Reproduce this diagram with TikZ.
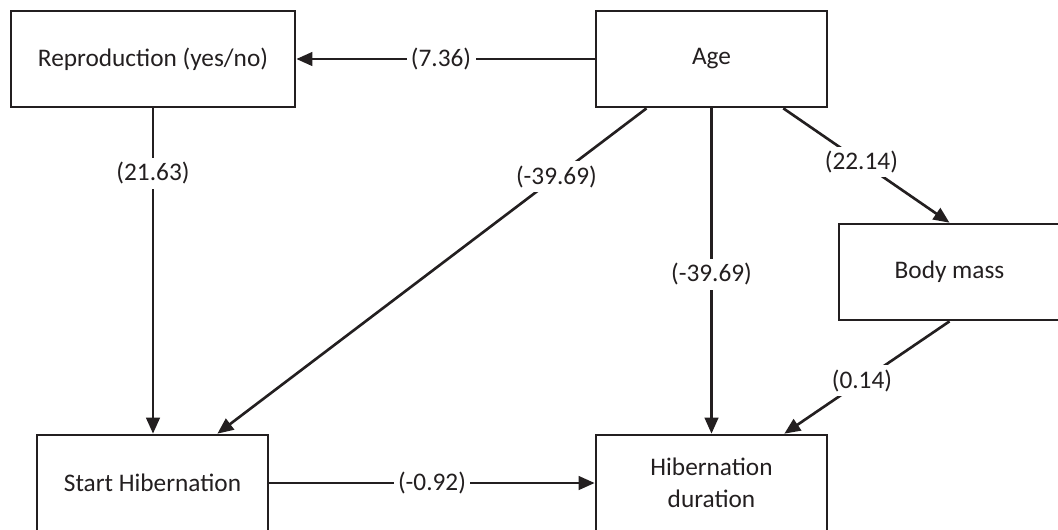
\documentclass[tikz,border=0pt]{standalone}
\usepackage{fontspec}
\setmainfont{Carlito}
\usepackage{xcolor}
\usetikzlibrary{arrows.meta}

\definecolor{ink}{HTML}{231F20}

\begin{document}
\begin{tikzpicture}[>={Triangle[length=0.32cm,width=0.27cm]}, line width=1.5pt, color=ink,
    box/.style={draw, rectangle, minimum height=1.92cm, inner sep=0pt, align=center,
        font=\fontsize{14.4}{18.4}\selectfont},
    lbl/.style={fill=white, inner sep=2.5pt, font=\fontsize{14.4}{17}\selectfont}]
            \useasboundingbox (0, 0) rectangle (21.16, -10.58);

            \node[box, minimum width=5.68cm] (repro) at (3.06, -1.18) {Reproduction (yes/no)};
            \node[box, minimum width=4.62cm] (age) at (14.23, -1.18) {Age};
            \node[box, minimum width=4.42cm] (body) at (18.99, -5.44) {Body mass};
            \node[box, minimum width=4.62cm] (start) at (3.05, -9.66) {Start Hibernation};
            \node[box, minimum width=4.62cm] (hib) at (14.23, -9.66) {Hibernation\\duration};

            %free ends of the body mass arrows
            \coordinate (agebm) at ([xshift=-0.9cm]age.south east);
            \coordinate (hibbm) at ([xshift=-0.88cm]hib.north east);

            \draw[->] (age) -- node[lbl, pos=0.515] {(7.36)} (repro);
            \draw[->] (repro.south) -- node[lbl, pos=0.2] {(21.63)} (repro.south |- start.north);
            \draw[->] (age) -- node[lbl, pos=0.21] {(-39.69)} (start);
            \draw[->] (age) -- node[lbl, pos=0.51] {(-39.69)} (hib);
            \draw[->] (agebm) -- node[lbl, pos=0.47] {(22.14)} (body.north);
            \draw[->] (body.south) -- node[lbl, pos=0.53] {(0.14)} (hibbm);
            \draw[->] (start) -- node[lbl, pos=0.5] {(-0.92)} (hib);

        \end{tikzpicture}
\end{document}
